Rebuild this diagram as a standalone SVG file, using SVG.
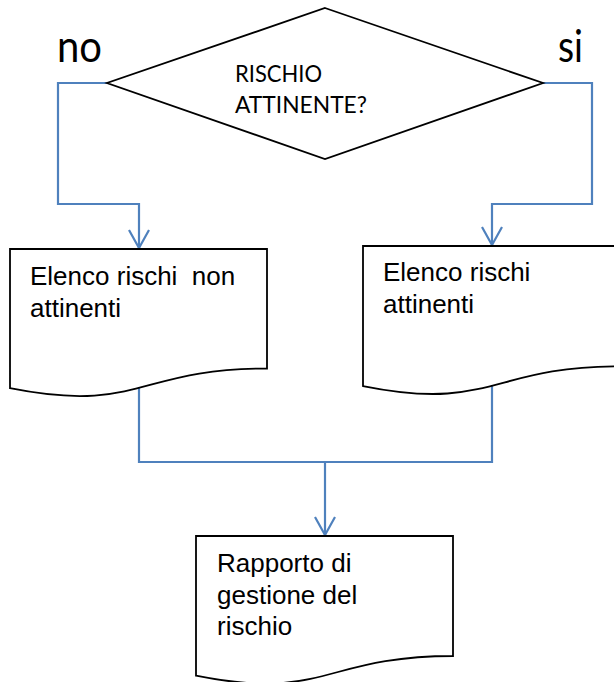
<svg xmlns="http://www.w3.org/2000/svg" width="614" height="682" viewBox="0 0 614 682">
<style>
.conn{fill:none;stroke:#4F81BD;stroke-width:2.2;stroke-linejoin:miter}
.shape{fill:#fff;stroke:#000;stroke-width:1.8}
.t{font-family:"Liberation Sans",Arial,sans-serif;font-size:26px;fill:#000;white-space:pre}
.c{font-family:Lato,"Open Sans",sans-serif;fill:#000}
</style>
<defs>
<marker id="arr" viewBox="0 0 24 24" refX="20" refY="12" markerWidth="24" markerHeight="24" markerUnits="userSpaceOnUse" orient="auto">
<path d="M2,2 L20,12 L2,22" fill="none" stroke="#4F81BD" stroke-width="2.2"/>
</marker>
</defs>
<rect width="614" height="682" fill="#fff"/>
<g id="connectors">
<path class="conn" d="M107,83 H58 V204 H139 V248" marker-end="url(#arr)"/>
<path class="conn" d="M543,83 H592 V204 H492 V245" marker-end="url(#arr)"/>
<path class="conn" d="M139,385 V462 H492 V380"/>
<path class="conn" d="M325,462 V535" marker-end="url(#arr)"/>
</g>
<g id="decision">
<polygon class="shape" points="325,8 543,83 325,159 107,83"/>
<text class="c" x="235" y="82" font-size="23" textLength="87" lengthAdjust="spacingAndGlyphs">RISCHIO</text>
<text class="c" x="235" y="113" font-size="23" textLength="132" lengthAdjust="spacingAndGlyphs">ATTINENTE?</text>
</g>
<g id="label-no"><text class="c" x="57" y="62" font-size="45" textLength="45" lengthAdjust="spacingAndGlyphs">no</text></g>
<g id="label-si"><text class="c" x="558" y="62" font-size="45" textLength="25" lengthAdjust="spacingAndGlyphs">si</text></g>
<g id="doc-non-attinenti">
<path class="shape" d="M10,249 H267 V368.5 C138.5,368.5 138.5,413.9 10,388.2 Z"/>
<text class="t" x="30" y="285">Elenco rischi  non</text>
<text class="t" x="30" y="317">attinenti</text>
</g>
<g id="doc-attinenti">
<path class="shape" d="M363,246 H620 V366.3 C491.5,366.3 491.5,412 363,386.1 Z"/>
<text class="t" x="383" y="281">Elenco rischi</text>
<text class="t" x="383" y="313">attinenti</text>
</g>
<g id="doc-rapporto">
<path class="shape" d="M196,536 H453 V656 C324.5,656 324.5,701.6 196,675.7 Z"/>
<text class="t" x="217" y="572">Rapporto di</text>
<text class="t" x="217" y="603.5">gestione del</text>
<text class="t" x="217" y="635">rischio</text>
</g>
</svg>
